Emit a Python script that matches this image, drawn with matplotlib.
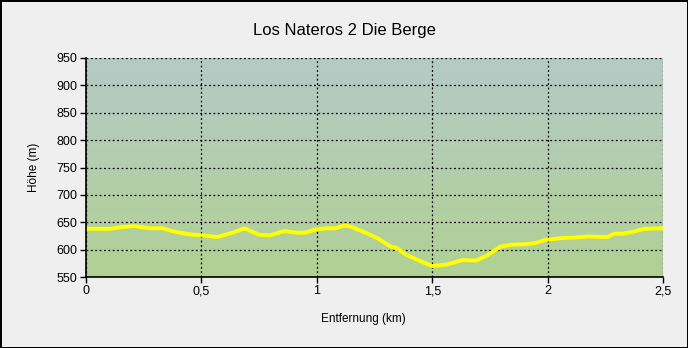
#!/usr/bin/env python3

import numpy as np
import matplotlib
matplotlib.use('Agg')
import matplotlib.pyplot as plt
from matplotlib.colors import LinearSegmentedColormap

# Höhenprofil ========================================================
dist_km = [0.0, 0.104, 0.152, 0.209, 0.275, 0.332, 0.38, 0.446, 0.503,
           0.569, 0.636, 0.687, 0.75, 0.797, 0.86, 0.911, 0.949, 0.997,
           1.044, 1.082, 1.12, 1.148, 1.205, 1.262, 1.319, 1.347, 1.386,
           1.443, 1.5, 1.566, 1.633, 1.69, 1.737, 1.794, 1.841, 1.908,
           1.946, 1.993, 2.06, 2.117, 2.174, 2.259, 2.288, 2.325, 2.363,
           2.42, 2.5]
hoehe_m = [638, 638, 641, 643, 639, 639, 633, 628, 626,
           623, 631, 639, 627, 626, 634, 631, 631, 637,
           639, 639, 644, 642, 632, 621, 606, 603, 591,
           580, 570, 573, 581, 580, 589, 605, 609, 610,
           612, 618, 621, 622, 624, 623, 629, 629, 632,
           638, 639]

x_ticks = [0, 0.5, 1, 1.5, 2, 2.5]
x_labels = ['0', '0,5', '1', '1,5', '2', '2,5']
y_ticks = list(range(550, 951, 50))
titel = 'Los Nateros 2 Die Berge'
# ====================================================================

plt.rcParams['font.family'] = ['Liberation Sans', 'DejaVu Sans']

fig = plt.figure(figsize=(6.88, 3.48), dpi=100, facecolor='#efefef',
                 edgecolor='black', linewidth=2)
ax = fig.add_axes([86/688, 1 - 277/348, 577/688, 219/348])

# Farbverlauf im Hintergrund (oben grau-blau, unten grün)
cmap = LinearSegmentedColormap.from_list('bg', ['#b0d194', '#b5cac6'])
grad = np.linspace(0, 1, 256).reshape(-1, 1)
ax.imshow(grad, cmap=cmap, aspect='auto', origin='lower',
          extent=[0, 1, 0, 1], transform=ax.transAxes, zorder=0)

ax.plot(dist_km, hoehe_m, color='#ffff00', lw=2.8, zorder=3,
        solid_joinstyle='round', solid_capstyle='round')

ax.set_xlim(0, 2.5)
ax.set_ylim(550, 950)
ax.set_xticks(x_ticks)
ax.set_xticklabels(x_labels)
ax.set_yticks(y_ticks)
ax.grid(True, color='black', linestyle=(0, (1.5, 2)), lw=0.9, zorder=1)
ax.set_axisbelow(False)

for s in ['top', 'right']:
    ax.spines[s].set_visible(False)
for s in ['left', 'bottom']:
    ax.spines[s].set_linewidth(1.2)
    ax.spines[s].set_zorder(4)

ax.tick_params(direction='out', length=4, width=1, labelsize=9, pad=2,
               colors='black')

ax.set_xlabel('Entfernung (km)', fontsize=8.5)
ax.xaxis.set_label_coords((363 - 86) / 577, -(313 - 277) / 219)
ax.set_ylabel('Höhe (m)', fontsize=8.5, labelpad=12)
fig.text(0.5, 1 - 31/348, titel, ha='center', va='center', fontsize=12)

fig.savefig('out.png', dpi=100, facecolor=fig.get_facecolor(),
            edgecolor=fig.get_edgecolor())
